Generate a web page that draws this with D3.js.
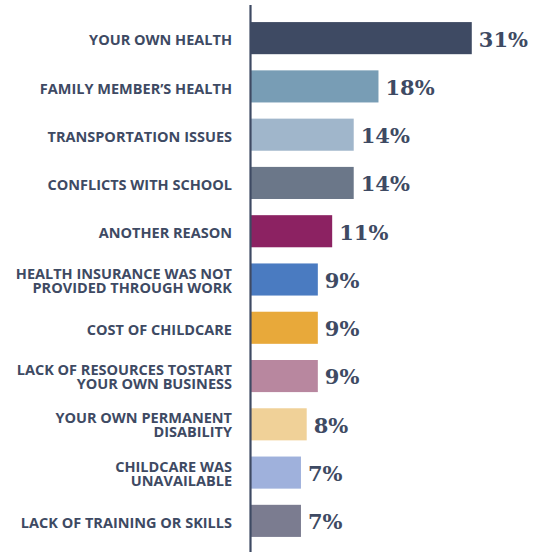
<!DOCTYPE html>
<html>
<head>
<meta charset="utf-8">
<script src="https://cdn.jsdelivr.net/npm/d3@7"></script>
<style>
  html, body { margin: 0; padding: 0; background: #fff; }
  svg { display: block; }
</style>
</head>
<body>
<div id="chart"></div>
<script>
const categories = [
  ["YOUR OWN HEALTH"],
  ["FAMILY MEMBER’S HEALTH"],
  ["TRANSPORTATION ISSUES"],
  ["CONFLICTS WITH SCHOOL"],
  ["ANOTHER REASON"],
  ["HEALTH INSURANCE WAS NOT", "PROVIDED THROUGH WORK"],
  ["COST OF CHILDCARE"],
  ["LACK OF RESOURCES TOSTART", "YOUR OWN BUSINESS"],
  ["YOUR OWN PERMANENT", "DISABILITY"],
  ["CHILDCARE WAS", "UNAVAILABLE"],
  ["LACK OF TRAINING OR SKILLS"]
];
const values = [30.9, 17.9, 14.45, 14.45, 11.45, 9.45, 9.45, 9.45, 7.9, 7.1, 7.1];
const colors = ["#3e4a63", "#789db5", "#a0b6cb", "#6b7789", "#8c2262", "#4a7bc1",
                "#e8a93a", "#b8879f", "#f0d198", "#9fb1dc", "#7b7c90"];

const W = 539, H = 552;
const x0 = 250;
const textColor = "#3e4a63";

const svg = d3.select("#chart").append("svg")
  .attr("width", W).attr("height", H);

const x = d3.scaleLinear().domain([0, 31]).range([x0, 472.5]);
const y = d3.scaleBand().domain(d3.range(values.length))
  .range([14, 545]).paddingInner(0.335).paddingOuter(0.1675);

const g = svg.append("g");

g.selectAll("rect.bar").data(values).join("rect")
  .attr("class", "bar")
  .attr("x", x(0))
  .attr("y", (d, i) => y(i))
  .attr("width", d => x(d) - x(0))
  .attr("height", y.bandwidth())
  .attr("fill", (d, i) => colors[i]);

// value labels
g.selectAll("text.val").data(values).join("text")
  .attr("class", "val")
  .attr("x", d => x(d) + 7)
  .attr("y", (d, i) => y(i) + y.bandwidth() / 2)
  .attr("dy", "0.4em")
  .attr("font-family", "'DejaVu Serif', serif")
  .attr("font-weight", "bold")
  .attr("font-size", 21)
  .attr("fill", textColor)
  .text(d => Math.round(d) + "%");

// category labels
const lab = g.selectAll("text.cat").data(categories).join("text")
  .attr("class", "cat")
  .attr("text-anchor", "end")
  .attr("font-family", "'Open Sans', sans-serif")
  .attr("font-weight", "bold")
  .attr("font-size", 14.5)
  .attr("fill", textColor)
  .attr("transform", (d, i) => `translate(232,${y(i) + y.bandwidth() / 2})`);

const lh = 14;
lab.each(function(lines) {
  const t = d3.select(this);
  const n = lines.length;
  lines.forEach((s, k) => {
    t.append("tspan")
      .attr("x", 0)
      .attr("y", (k - (n - 1) / 2) * lh)
      .attr("dy", n === 1 ? "0.5em" : "0.42em")
      .text(s);
  });
});

// axis line
svg.append("line")
  .attr("x1", x0 + 0.5).attr("x2", x0 + 0.5)
  .attr("y1", 5).attr("y2", H)
  .attr("stroke", textColor)
  .attr("stroke-width", 2.2);
</script>
</body>
</html>
